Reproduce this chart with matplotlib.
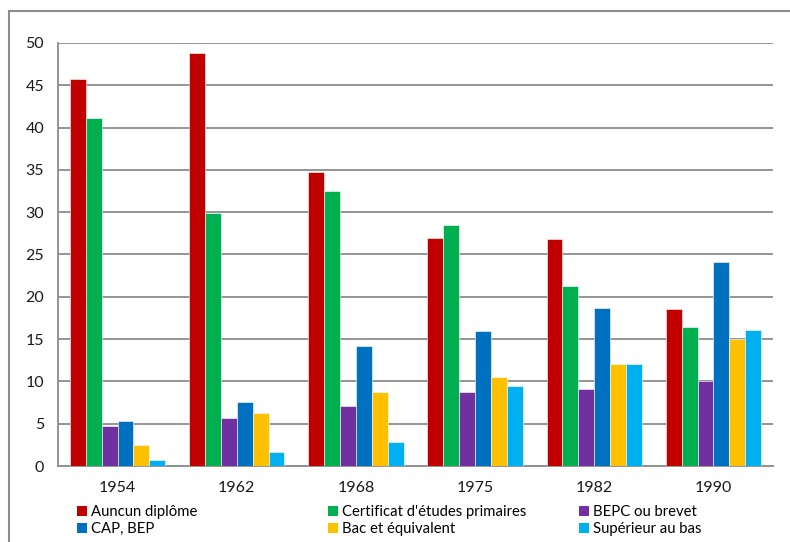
import numpy as np
import matplotlib.pyplot as plt
from matplotlib.patches import Patch, Rectangle

plt.rcParams['font.family'] = ['Lato', 'DejaVu Sans']

years = ['1954', '1962', '1968', '1975', '1982', '1990']
series_names = ['Auncun diplôme', "Certificat d'études primaires", 'BEPC ou brevet',
                'CAP, BEP', 'Bac et équivalent', 'Supérieur au bas']
aucun = [45.8, 48.8, 34.7, 26.9, 26.8, 18.5]
certificat = [41.1, 29.9, 32.5, 28.5, 21.3, 16.4]
bepc = [4.7, 5.7, 7.1, 8.8, 9.1, 10.1]
cap_bep = [5.3, 7.6, 14.2, 16.0, 18.7, 24.1]
bac = [2.5, 6.3, 8.7, 10.5, 12.0, 15.0]
superieur = [0.7, 1.7, 2.8, 9.4, 12.0, 16.1]
colors = ['#C00000', '#00B050', '#7030A0', '#0070C0', '#FFC000', '#00B0F0']

values = [aucun, certificat, bepc, cap_bep, bac, superieur]

fig = plt.figure(figsize=(7.9, 5.42), dpi=100)
ax = fig.add_axes([58 / 790, 1 - 466 / 542, (773 - 58) / 790, (466 - 43) / 542])

grid_c = '#8C8C8C'
x = np.arange(len(years))
n = len(values)
w = 0.8 / n
for i, (vals, c) in enumerate(zip(values, colors)):
    ax.bar(x - 0.4 + w * (i + 0.5), vals, width=w, color=c,
           edgecolor='white', linewidth=0.4, zorder=3)

ax.set_xlim(-0.5, len(years) - 0.5)
ax.set_ylim(0, 50)
ax.set_yticks(np.arange(0, 51, 5))
ax.set_xticks(x)
ax.set_xticklabels(years)
ax.yaxis.grid(True, color=grid_c, linewidth=1.3)
ax.set_axisbelow(True)
for s in ['top', 'right']:
    ax.spines[s].set_visible(False)
for s in ['left', 'bottom']:
    ax.spines[s].set_color(grid_c)
    ax.spines[s].set_linewidth(1.3)
ax.tick_params(axis='y', length=0, pad=10, labelsize=11.5, labelcolor='#1a1a1a')
ax.tick_params(axis='x', length=0, pad=11, labelsize=11.5, labelcolor='#1a1a1a')

# outer chart frame (cropped on right/bottom)
fig.patches.append(Rectangle((9 / 790, -0.2), 1.1, 1.2 - 11 / 542, transform=fig.transFigure,
                             fill=False, edgecolor=grid_c, linewidth=1.5, clip_on=False))

# legend: three columns, two rows
col_x = [77 / 790, 328 / 790, 579 / 790]
for k in range(3):
    handles = [Patch(facecolor=colors[k]), Patch(facecolor=colors[k + 3])]
    labels = [series_names[k], series_names[k + 3]]
    fig.legend(handles, labels, loc='upper left', bbox_to_anchor=(col_x[k], 1 - 505 / 542),
               frameon=False, fontsize=10.7, handlelength=0.65, handleheight=0.65,
               handletextpad=0.3, labelspacing=0.22, borderpad=0, borderaxespad=0)

plt.savefig('out.png', dpi=100)
